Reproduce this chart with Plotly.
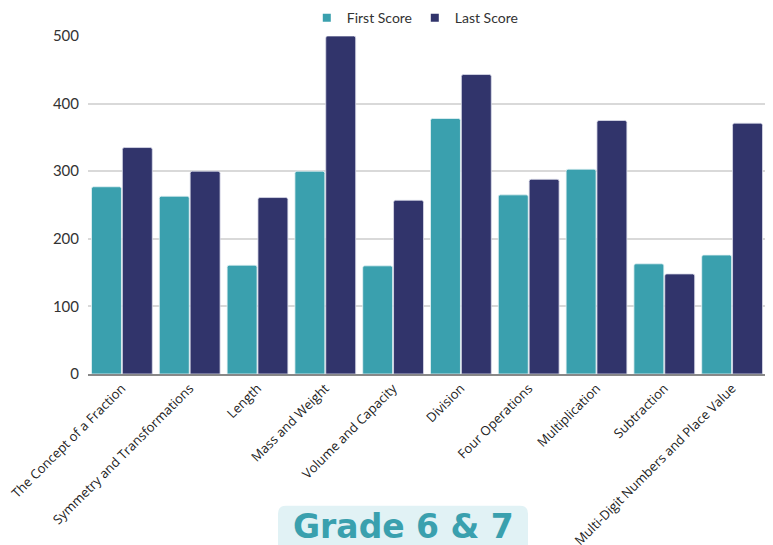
import plotly.graph_objects as go

categories = ["The Concept of a Fraction", "Symmetry and Transformations", "Length",
              "Mass and Weight", "Volume and Capacity", "Division", "Four Operations",
              "Multiplication", "Subtraction", "Multi-Digit Numbers and Place Value"]
first_score = [277, 263, 161, 300, 160, 378, 265, 303, 163, 176]
last_score = [335, 300, 261, 500, 257, 443, 288, 375, 148, 371]
y_ticks = [0, 100, 200, 300, 400, 500]
series_names = ["First Score", "Last Score"]
series_colors = ["#3AA0AE", "#31346B"]

fig = go.Figure()
fig.add_trace(go.Bar(x=categories, y=first_score, name=series_names[0], showlegend=False,
                     marker=dict(color=series_colors[0], line=dict(color="#E6F3F5", width=0.8))))
fig.add_trace(go.Bar(x=categories, y=last_score, name=series_names[1], showlegend=False,
                     marker=dict(color=series_colors[1], line=dict(color="#DADCEA", width=0.8))))
for name, color in zip(series_names, series_colors):
    fig.add_trace(go.Scatter(x=[None], y=[None], mode="markers", name=name,
                             marker=dict(symbol="square", size=8, color=color)))

# rounded box behind the title (paper coords)
bx0, bx1, by0, by1, rx, ry = 0.2802, 0.649, -0.53, -0.3896, 0.0118, 0.0237
box_path = (f"M {bx0},{by0} L {bx0},{by1 - ry} Q {bx0},{by1} {bx0 + rx},{by1} "
            f"L {bx1 - rx},{by1} Q {bx1},{by1} {bx1},{by1 - ry} L {bx1},{by0} Z")

fig.update_layout(
    width=765, height=537,
    margin=dict(l=80, r=7, t=28, b=171, autoexpand=False),
    paper_bgcolor="white", plot_bgcolor="white",
    barmode="group", bargap=0.09, bargroupgap=0.03, barcornerradius=2,
    font=dict(family="Open Sans", color="#222"),
    legend=dict(orientation="h", x=0.482, xanchor="center", y=1.053, yanchor="middle",
                font=dict(family="Lato", size=14, color="#333"), itemwidth=30,
                entrywidth=63, entrywidthmode="pixels", traceorder="normal"),
    xaxis=dict(tickangle=-45, tickfont=dict(family="Open Sans", size=13, color="#222"),
               showline=True, linecolor="#888", linewidth=1.5, ticks="", automargin=False),
    yaxis=dict(range=[0, 500], tickvals=y_ticks, tickfont=dict(family="Lato", size=15, color="#333"),
               gridcolor="#D9D9D9", gridwidth=1.5, zeroline=False, ticks="", ticklabelstandoff=8,
               automargin=False),
    shapes=[
        dict(type="path", xref="paper", yref="paper", path=box_path,
             fillcolor="#E1F2F5", line=dict(width=0), layer="below"),
    ],
    annotations=[
        dict(text="<b>Grade 6 &amp; 7</b>", xref="paper", yref="paper", x=0.4655, y=-0.452,
             xanchor="center", yanchor="middle", showarrow=False,
             font=dict(family="DejaVu Sans", size=33, color="#3AA0AE")),
    ],
)

fig.write_html("out.html")
